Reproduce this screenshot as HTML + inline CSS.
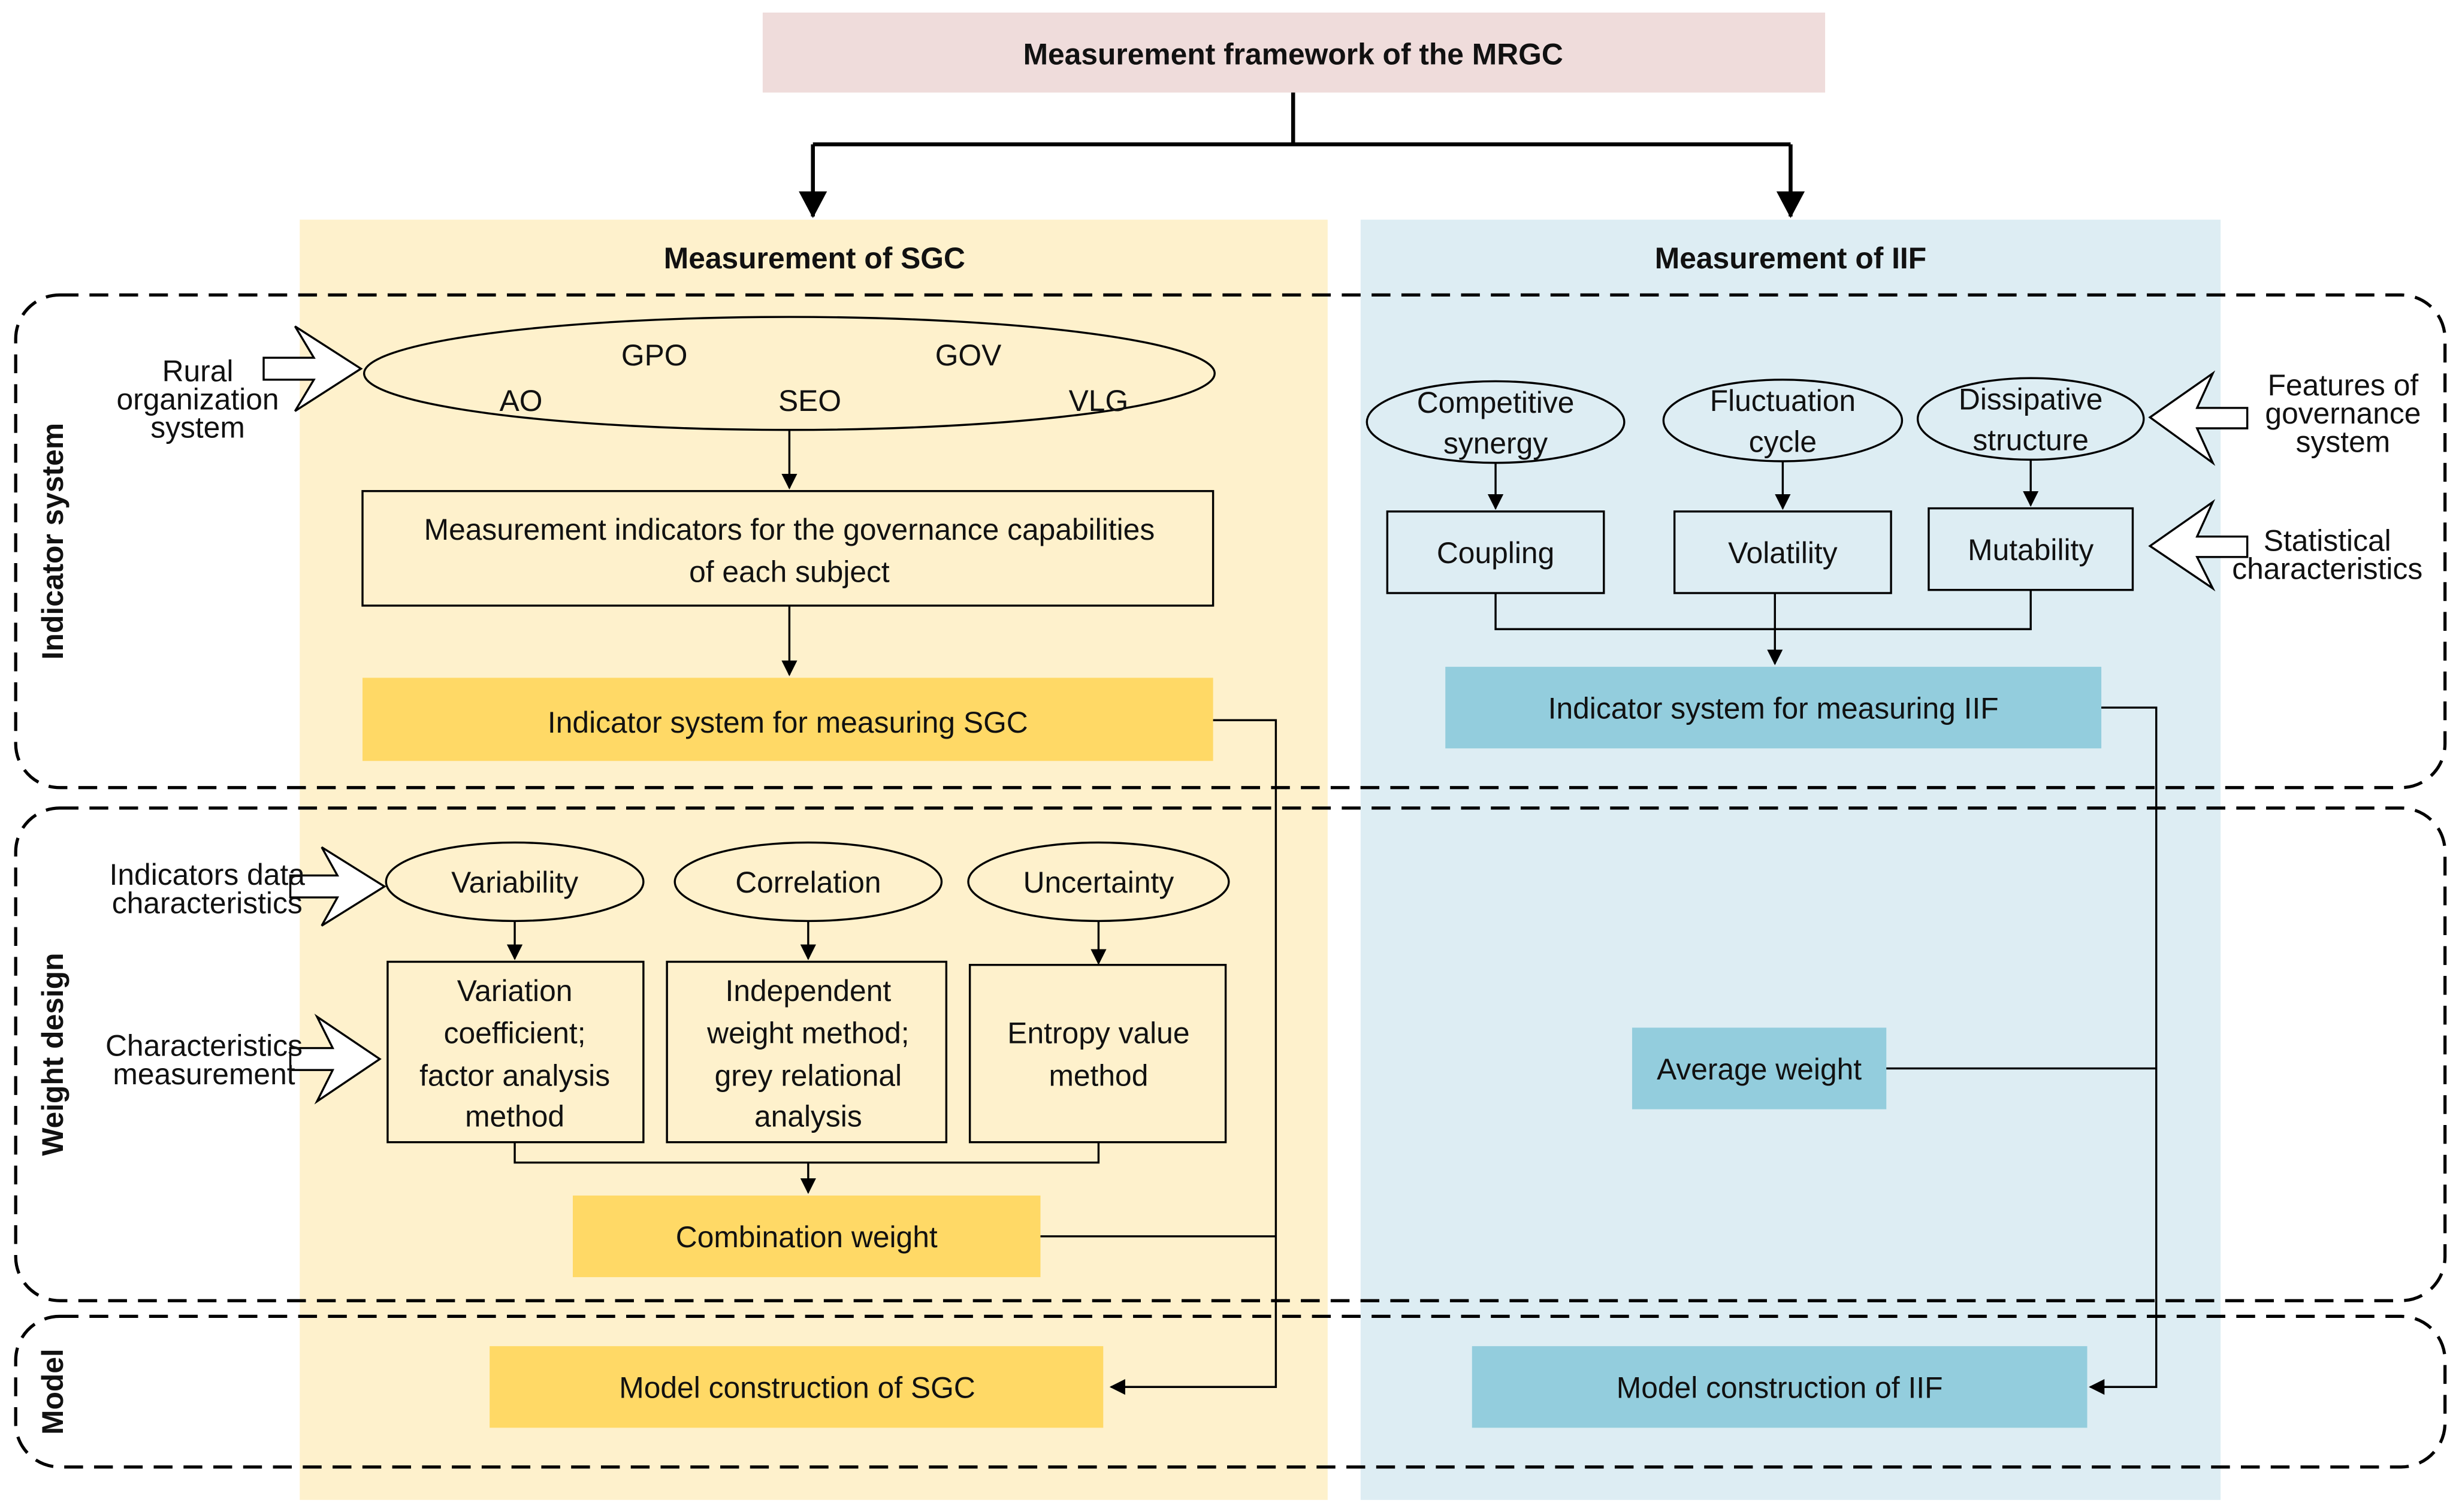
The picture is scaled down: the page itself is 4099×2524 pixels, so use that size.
<!DOCTYPE html>
<html><head><meta charset="utf-8"><style>
html,body{margin:0;padding:0;background:#fff;}
svg{display:block;}
text{font-family:"Liberation Sans",Arial,sans-serif;font-size:19px;fill:#111;}
.b{font-weight:bold;}
</style></head><body>
<svg width="4099" height="2524" viewBox="0 0 1565 963.7" preserveAspectRatio="none" xmlns="http://www.w3.org/2000/svg">
<defs>
<marker id="ar" markerWidth="10" markerHeight="10" refX="9" refY="5" orient="auto" markerUnits="userSpaceOnUse"><path d="M0,0 L10,5 L0,10 z" fill="#000"/></marker>
<marker id="ab" markerWidth="18" markerHeight="18" refX="16" refY="9" orient="auto" markerUnits="userSpaceOnUse"><path d="M0,0 L17,9 L0,18 z" fill="#000"/></marker>
</defs>
<rect width="1565" height="963.7" fill="#fff"/>
<!-- panels -->
<rect x="191" y="140" width="655" height="816" fill="#FEF1CC"/>
<rect x="867" y="140" width="548" height="816" fill="#DDEDF3"/>
<!-- top -->
<rect x="486" y="8" width="677" height="51" fill="#EFDCDB"/>
<text x="824" y="41" text-anchor="middle" class="b">Measurement framework of the MRGC</text>
<path d="M824,59 V92 M518,92 H1141" stroke="#000" stroke-width="2.5" fill="none"/>
<path d="M518,92 V138" stroke="#000" stroke-width="2.5" marker-end="url(#ab)"/>
<path d="M1141,92 V138" stroke="#000" stroke-width="2.5" marker-end="url(#ab)"/>
<text x="519" y="171" text-anchor="middle" class="b">Measurement of SGC</text>
<text x="1141" y="171" text-anchor="middle" class="b">Measurement of IIF</text>
<!-- dashed regions -->
<g fill="none" stroke="#000" stroke-width="2" stroke-dasharray="12,7">
<rect x="10" y="188" width="1548" height="314" rx="28"/>
<rect x="10" y="515" width="1548" height="314" rx="28"/>
<rect x="10" y="839" width="1548" height="96" rx="28"/>
</g>
<text transform="translate(40,345) rotate(-90)" text-anchor="middle" class="b">Indicator system</text>
<text transform="translate(40,672) rotate(-90)" text-anchor="middle" class="b">Weight design</text>
<text transform="translate(40,887) rotate(-90)" text-anchor="middle" class="b">Model</text>
<g stroke="#000" stroke-width="1.3" fill="none">
<!-- left indicator -->
<ellipse cx="503" cy="238" rx="271" ry="36" fill="#FEF1CC"/>
<polygon points="168,228 200,228 188,208 230,235 188,262 200,242 168,242" fill="#fff"/>
<rect x="231" y="313" width="542" height="73" fill="#FEF1CC"/>
<path d="M503,274 V311" marker-end="url(#ar)"/>
<path d="M503,386 V430" marker-end="url(#ar)"/>
<rect x="231" y="432" width="542" height="53" fill="#FFD966" stroke="none"/>
<path d="M773,459 H813 V884 H708" marker-end="url(#ar)"/>
<!-- left weight -->
<ellipse cx="328" cy="562" rx="82" ry="25" fill="#FEF1CC"/>
<ellipse cx="515" cy="562" rx="85" ry="25" fill="#FEF1CC"/>
<ellipse cx="700" cy="562" rx="83" ry="25" fill="#FEF1CC"/>
<polygon points="185,558 215,558 205,540 245,565 205,590 215,572 185,572" fill="#fff"/>
<polygon points="185,668 212,668 202,648 242,675 202,702 212,682 185,682" fill="#fff"/>
<path d="M328,587 V611" marker-end="url(#ar)"/>
<path d="M515,587 V611" marker-end="url(#ar)"/>
<path d="M700,587 V614" marker-end="url(#ar)"/>
<rect x="247" y="613" width="163" height="115" fill="#FEF1CC"/>
<rect x="425" y="613" width="178" height="115" fill="#FEF1CC"/>
<rect x="618" y="615" width="163" height="113" fill="#FEF1CC"/>
<path d="M328,728 V741 H700 V728"/>
<path d="M515,741 V760" marker-end="url(#ar)"/>
<rect x="365" y="762" width="298" height="52" fill="#FFD966" stroke="none"/>
<path d="M663,788 H813"/>
<rect x="312" y="858" width="391" height="52" fill="#FFD966" stroke="none"/>
<!-- right -->
<ellipse cx="953" cy="269" rx="82" ry="26" fill="#DDEDF3"/>
<ellipse cx="1136" cy="268" rx="76" ry="26" fill="#DDEDF3"/>
<ellipse cx="1294" cy="267" rx="72" ry="26" fill="#DDEDF3"/>
<polygon points="1432,260 1400,260 1410,238 1370,266 1410,295 1400,273 1432,273" fill="#fff"/>
<polygon points="1432,342 1400,342 1410,320 1370,348 1410,375 1400,355 1432,355" fill="#fff"/>
<path d="M953,295 V324" marker-end="url(#ar)"/>
<path d="M1136,294 V324" marker-end="url(#ar)"/>
<path d="M1294,293 V322" marker-end="url(#ar)"/>
<rect x="884" y="326" width="138" height="52" fill="#DDEDF3"/>
<rect x="1067" y="326" width="138" height="52" fill="#DDEDF3"/>
<rect x="1229" y="324" width="130" height="52" fill="#DDEDF3"/>
<path d="M953,378 V401 H1294 V376"/>
<path d="M1131,378 V423" marker-end="url(#ar)"/>
<rect x="921" y="425" width="418" height="52" fill="#93CDDD" stroke="none"/>
<path d="M1339,451 H1374 V884 H1332" marker-end="url(#ar)"/>
<rect x="1040" y="655" width="162" height="52" fill="#93CDDD" stroke="none"/>
<path d="M1202,681 H1374"/>
<rect x="938" y="858" width="392" height="52" fill="#93CDDD" stroke="none"/>
</g>
<!-- texts -->
<g text-anchor="middle">
<text x="126" y="243">Rural</text><text x="126" y="261">organization</text><text x="126" y="279">system</text>
<text x="417" y="233">GPO</text><text x="617" y="233">GOV</text>
<text x="332" y="262">AO</text><text x="516" y="262">SEO</text><text x="700" y="262">VLG</text>
<text x="503" y="344">Measurement indicators for the governance capabilities</text>
<text x="503" y="371">of each subject</text>
<text x="502" y="467">Indicator system for measuring SGC</text>
<text x="132" y="564">Indicators data</text><text x="132" y="582">characteristics</text>
<text x="130" y="673">Characteristics</text><text x="130" y="691">measurement</text>
<text x="328" y="569">Variability</text><text x="515" y="569">Correlation</text><text x="700" y="569">Uncertainty</text>
<text x="328" y="638">Variation</text><text x="328" y="665">coefficient;</text><text x="328" y="692">factor analysis</text><text x="328" y="718">method</text>
<text x="515" y="638">Independent</text><text x="515" y="665">weight method;</text><text x="515" y="692">grey relational</text><text x="515" y="718">analysis</text>
<text x="700" y="665">Entropy value</text><text x="700" y="692">method</text>
<text x="514" y="795">Combination weight</text>
<text x="508" y="891">Model construction of SGC</text>
<text x="953" y="263">Competitive</text><text x="953" y="289">synergy</text>
<text x="1136" y="262">Fluctuation</text><text x="1136" y="288">cycle</text>
<text x="1294" y="261">Dissipative</text><text x="1294" y="287">structure</text>
<text x="1493" y="252">Features of</text><text x="1493" y="270">governance</text><text x="1493" y="288">system</text>
<text x="1483" y="351">Statistical</text><text x="1483" y="369">characteristics</text>
<text x="953" y="359">Coupling</text><text x="1136" y="359">Volatility</text><text x="1294" y="357">Mutability</text>
<text x="1130" y="458">Indicator system for measuring IIF</text>
<text x="1121" y="688">Average weight</text>
<text x="1134" y="891">Model construction of IIF</text>
</g>
</svg>
</body></html>
